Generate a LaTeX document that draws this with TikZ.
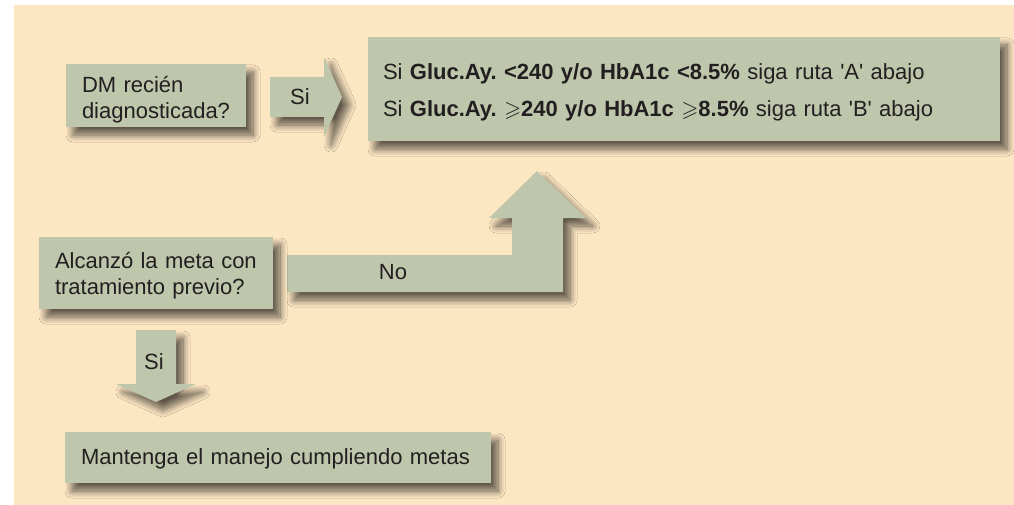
\documentclass[tikz,border=0pt]{standalone}
\usepackage{amssymb}
\usepackage{fontspec}
\setmainfont{Liberation Sans}
\usetikzlibrary{positioning, shadows.blur}

\definecolor{bgcream}{RGB}{253,231,195}
\definecolor{boxgreen}{RGB}{190,198,172}
\definecolor{inkdark}{RGB}{35,31,32}

\frenchspacing

\begin{document}
\begin{tikzpicture}[
    % GLOBAL CFG
    x=1pt, y=-1pt,
    font=\fontsize{22}{26.5}\selectfont,
    text=inkdark,
    % Styles
    dropshadow/.style={
        blur shadow={shadow xshift=7pt, shadow yshift=-8pt,
            shadow blur radius=7pt, shadow blur steps=12,
            shadow opacity=62}
    },
    box/.style={
        rectangle,
        fill=boxgreen,
        dropshadow,
        inner xsep=16pt,
        inner ysep=0pt,
        align=left,
    },
    blockarrow/.style={
        fill=boxgreen,
        dropshadow,
    },
    mylabel/.style={
        inner sep=0pt
    },
]

% Background
    \fill [bgcream] (14,5) rectangle (1014,505);

% Arrows (drawn first, boxes on top)
    % Si -> rules
    \fill [blockarrow] (270,77) -- (324,77) -- (324,57) -- (342,97)
        -- (324,137) -- (324,117) -- (270,117) -- cycle;
    % No -> up into rules
    \fill [blockarrow] (287,255) -- (512,255) -- (512,218) -- (489,218)
        -- (537,171) -- (586,218) -- (563,218) -- (563,292) -- (287,292) -- cycle;
    % Si -> down
    \fill [blockarrow] (136,330) -- (176,330) -- (176,384) -- (196,384)
        -- (156,402) -- (116,384) -- (136,384) -- cycle;

% Boxes
    \node [box, minimum width=180pt, minimum height=63pt, text width=148pt,
        text depth=23pt]
        (dm) at (156,95.5) {DM reci\'en\\diagnosticada?};
    \node [box, minimum width=632pt, minimum height=104pt, text width=602pt,
        inner xsep=15pt, text depth=35.5pt, font=\fontsize{22}{37}\selectfont]
        (rules) at (684,89)
        {Si \textbf{Gluc.Ay. <240 y/o HbA1c <8.5\%} siga ruta \textquotesingle A\textquotesingle{} abajo\\
         Si \textbf{Gluc.Ay.} $\geqslant$\textbf{240 y/o HbA1c} $\geqslant$\textbf{8.5\%} siga ruta \textquotesingle B\textquotesingle{} abajo};
    \node [box, minimum width=234pt, minimum height=72pt, text width=202pt,
        text depth=26pt]
        (meta) at (156,273) {Alcanz\'o la meta con\\tratamiento previo?};
    \node [box, minimum width=426pt, minimum height=51pt, text width=394pt,
        text depth=1pt]
        (keep) at (278,457.5) {Mantenga el manejo cumpliendo metas};

% Arrow labels
    \node [mylabel] (si1) at (300,97) {Si};
    \node [mylabel] (no) at (393,272) {No};
    \node [mylabel] (si2) at (154,362) {Si};

    \pgfresetboundingbox
    \useasboundingbox (0,0) rectangle (1014,505);
\end{tikzpicture}
\end{document}
